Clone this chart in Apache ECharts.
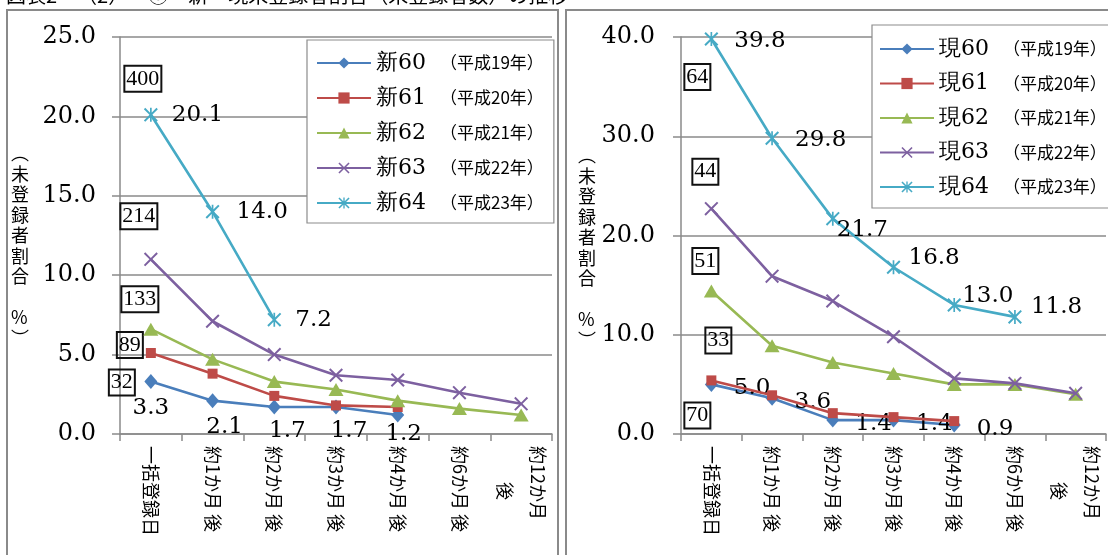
<!DOCTYPE html>
<html><head><meta charset="utf-8">
<script src="https://cdn.jsdelivr.net/npm/echarts@6/dist/echarts.min.js"></script>
<style>html,body{margin:0;padding:0;background:#fff}#c{width:1108px;height:555px}</style>
</head><body><div id="c"></div>
<script>
const categories = ['一括登録日','約1か月 後','約2か月 後','約3か月 後','約4か月 後','約6か月 後','約12か月\n　　後'];
const namesL = ['新60','新61','新62','新63','新64'];
const namesR = ['現60','現61','現62','現63','現64'];
const years = ['（平成19年）','（平成20年）','（平成21年）','（平成22年）','（平成23年）'];
const shin60 = [3.3, 2.1, 1.7, 1.7, 1.2, null, null];
const shin61 = [5.1, 3.8, 2.4, 1.8, 1.7, null, null];
const shin62 = [6.6, 4.7, 3.3, 2.8, 2.1, 1.6, 1.2];
const shin63 = [11.0, 7.1, 5.0, 3.7, 3.4, 2.6, 1.9];
const shin64 = [20.1, 14.0, 7.2, null, null, null, null];
const countsL = [32, 89, 133, 214, 400];
const gen60 = [5.0, 3.6, 1.4, 1.4, 0.9, null, null];
const gen61 = [5.4, 3.9, 2.1, 1.7, 1.3, null, null];
const gen62 = [14.4, 8.9, 7.2, 6.1, 5.0, 5.0, 4.0];
const gen63 = [22.7, 15.9, 13.4, 9.8, 5.6, 5.1, 4.1];
const gen64 = [39.8, 29.8, 21.7, 16.8, 13.0, 11.8, null];
const countsR = [70, 33, 51, 44, 64];
const yMaxL = 25, yStepL = 5, yMaxR = 40, yStepR = 10;
const yName = ['︵','未','登','録','者','割','合','','%','︶'];
const titleText = '図表2－（2）－③　新・現未登録者割合（未登録者数）の推移';

const colors = ['#4A7EBB', '#BE4B48', '#98B954', '#7D60A0', '#46AAC5'];
const X_PATH = 'path://M0,1 L1,0 L5,4 L9,0 L10,1 L6,5 L10,9 L9,10 L5,6 L1,10 L0,9 L4,5 Z';
const STAR_PATH = 'path://M0,1 L1,0 L5,4 L9,0 L10,1 L6,5 L10,9 L9,10 L5,6 L1,10 L0,9 L4,5 Z M4.4,0 L5.6,0 L5.6,10 L4.4,10 Z';
const symbols = ['diamond', 'rect', 'triangle', X_PATH, STAR_PATH];
const symSizes = [[13,15], 10, [15,13], 14, 14];
const serif = 'DejaVu Serif';
const cjk = 'Noto Sans CJK JP';

function valLabel(extra) {
  return Object.assign({show:true, color:'#000', fontFamily:serif, fontSize:23,
    formatter: p => p.value.toFixed(1)}, extra);
}
function items(arr, offs) {
  return arr.map((v,i) => v == null ? null : (offs && offs[i] ? {value:v, label:{offset:offs[i]}} : v));
}
function boxMark(firstVal, count, off) {
  return {
    symbol:'rect', symbolSize:1, itemStyle:{color:'rgba(0,0,0,0)'}, animation:false,
    label:{show:true, position:'inside', offset:off, color:'#000', fontFamily:'Liberation Serif',
      fontSize:22, borderColor:'#111', borderWidth:2, padding:[3,2,1,2], formatter: String(count)},
    data:[{coord:[0, firstVal], value:count}]
  };
}

function makeSeries(names, datas, counts, boxOffs, labelCfg, axisIdx) {
  return names.map((n,k) => {
    const s = {
      name:n, type:'line', xAxisIndex:axisIdx, yAxisIndex:axisIdx,
      data: items(datas[k], labelCfg[k] && labelCfg[k].offs),
      symbol: symbols[k], symbolSize: symSizes[k], symbolKeepAspect:true,
      lineStyle:{width:2.6, color:colors[k]}, itemStyle:{color:colors[k]},
      animation:false, z: 3 + k,
      markPoint: boxMark(datas[k][0], counts[k], boxOffs[k])
    };
    if (labelCfg[k]) s.label = valLabel(labelCfg[k].base);
    return s;
  });
}

const seriesL = makeSeries(namesL, [shin60, shin61, shin62, shin63, shin64], countsL,
  [[-29,1],[-21,-8],[-11,-30],[-12,-43],[-8,-36]],
  [{base:{position:'bottom', distance:5}, offs:[[0,2],[12,2],[13,0],[13,0],[6,-5]]},
   null, null, null,
   {base:{position:'right', distance:14}, offs:[null,[3,0],null]}], 0);
const seriesR = makeSeries(namesR, [gen60, gen61, gen62, gen63, gen64], countsR,
  [[-14,31],[7,-40],[-6,-30],[-6,-37],[-14,38]],
  [{base:{position:'right', distance:16, offset:[0,4]}, offs:null},
   null, null, null,
   {base:{position:'right', distance:16}, offs:[[0,2],[0,2],[-19,11],[-8,-9],[-15,-9],[-7,-10]]}], 1);

function legend(names, left, top, pad, gap) {
  return {
    data: names, orient:'vertical', left:left, top:top, padding:pad,
    itemWidth:54, itemHeight:14, itemGap:gap,
    borderColor:'#8c8c8c', borderWidth:1.2, backgroundColor:'#fff',
    formatter: n => '{a|' + n + '}{b|' + years[names.indexOf(n)] + '}',
    textStyle:{ rich:{
      a:{fontFamily:serif, fontSize:22, color:'#000', width:64, lineHeight:20},
      b:{fontFamily:cjk, fontSize:17, color:'#000', lineHeight:20}
    }}
  };
}

const gray = '#8a8a8a';
function xAxis(idx) {
  return {type:'category', gridIndex:idx, data:categories, boundaryGap:true,
    axisLine:{lineStyle:{color:gray, width:1.5}},
    axisTick:{show:true, length:7, lineStyle:{color:gray, width:1.5}},
    axisLabel:{interval:0, rotate:-90, margin:12, color:'#000', fontFamily:cjk, fontSize:18, lineHeight:33}};
}
function yAxis(idx, max, step, margin) {
  return {type:'value', gridIndex:idx, min:0, max:max, interval:step,
    axisLine:{show:true, lineStyle:{color:gray, width:1.5}},
    axisTick:{show:true, length:8, lineStyle:{color:gray, width:1.5}},
    splitLine:{lineStyle:{color:gray, width:1.5}},
    axisLabel:{margin:margin, color:'#000', fontFamily:serif, fontSize:24, formatter: v => v.toFixed(1)}};
}

const chart = echarts.init(document.getElementById('c'), null, {renderer:'canvas'});
chart.setOption({
  backgroundColor:'#fff',
  animation:false,
  grid:[{left:120, top:37, width:432, height:397},
        {left:681, top:37, width:434, height:397}],
  xAxis:[xAxis(0), xAxis(1)],
  yAxis:[yAxis(0, yMaxL, yStepL, 24), yAxis(1, yMaxR, yStepR, 26)],
  legend:[legend(namesL, 307, 40, [12,10,9,9], 13), legend(namesR, 872, 25, [13,30,10,7], 12.5)],
  graphic:[
    {type:'text', left:6, top:-15, z:10, style:{text:titleText, font:'20px "Noto Sans CJK JP"', fill:'#000'}},
    {type:'rect', z:-1, shape:{x:7, y:10, width:551, height:560}, style:{fill:'none', stroke:'#8a8a8a', lineWidth:2}},
    {type:'rect', z:-1, shape:{x:566, y:10, width:560, height:560}, style:{fill:'none', stroke:'#8a8a8a', lineWidth:2}},
    {type:'text', x:11, y:143, style:{text:yName.join('\n'), font:'18px "Noto Sans CJK JP"', lineHeight:20.5, fill:'#000', align:'left'}},
    {type:'text', x:578, y:145, style:{text:yName.join('\n'), font:'18px "Noto Sans CJK JP"', lineHeight:20.5, fill:'#000', align:'left'}}
  ],
  series: seriesL.concat(seriesR)
});
</script></body></html>
